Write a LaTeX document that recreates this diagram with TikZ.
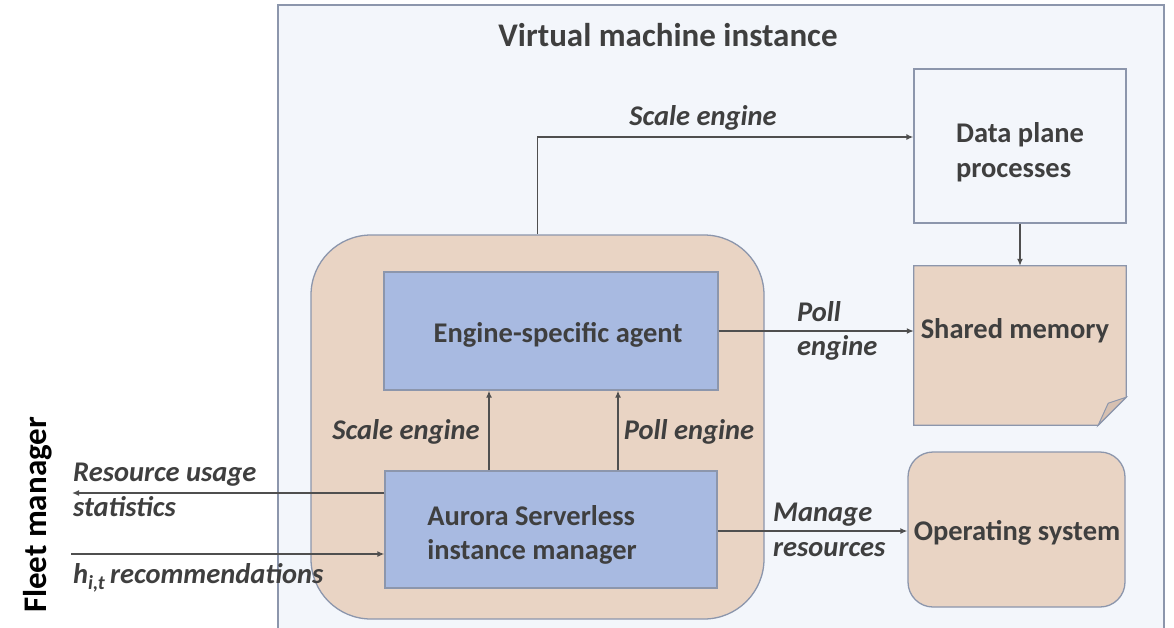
\documentclass[tikz,border=0pt]{standalone}
\usepackage{fontspec}
\setmainfont{Carlito}
\usetikzlibrary{arrows.meta}

\definecolor{vmfill}{HTML}{F3F6FB}
\definecolor{edgegrey}{HTML}{8C96AC}
\definecolor{peach}{HTML}{E9D4C4}
\definecolor{foldpeach}{HTML}{D6C0B1}
\definecolor{agentblue}{HTML}{A8BAE1}
\definecolor{txtgrey}{HTML}{3F3F3F}
\definecolor{arrgrey}{HTML}{4F4F4F}

\begin{document}
\begin{tikzpicture}[x=1pt,y=-1pt]
        \tikzstyle{every node}+=[inner sep=0pt, text=txtgrey, font=\bfseries\fontsize{28.5}{34.5}\selectfont]
        \tikzstyle{box}=[draw=edgegrey, line width=1.3pt]
        \tikzstyle{lbl}=[font=\bfseries\itshape\fontsize{28.5}{34.5}\selectfont, align=left]
        \tikzstyle{conn}=[draw=arrgrey, line width=1.6pt, -{Latex[length=7pt,width=6pt]}]
        \useasboundingbox (0,0) rectangle (1174,627);
        % virtual machine frame, open at the bottom
        \fill [vmfill] (278,5) rectangle (1164,640);
        \draw [edgegrey, line width=1.5pt] (278,640) -- (278,5) -- (1164,5) -- (1164,640);
        \node (vmtitle) at (668,35) [font=\bfseries\fontsize{33}{40}\selectfont] {Virtual machine instance};
        % serverless host and its two parts
        \node [box, fill=peach, rounded corners=60pt, minimum width=453, minimum height=384] (host) at (537.5,427) {};
        \node [box, fill=agentblue, minimum width=334, minimum height=118] (agent) at (551,331) {};
        \node (agenttext) at (558,335) {Engine-specific agent};
        \node [box, fill=agentblue, minimum width=332, minimum height=117] (mgr) at (551,529.5) {};
        \node (mgrtext) at (532,535) [align=left] {Aurora Serverless\\instance manager};
        % right column
        \node [box, minimum width=212, minimum height=154] (dp) at (1020,146) {};
        \node (dptext) at (1020,152) [align=left] {Data plane\\processes};
        \node [minimum width=212, minimum height=159] (shmem) at (1020,345.5) {};
        \filldraw [fill=peach, draw=edgegrey, line width=1.3pt] (shmem.north west) -- (shmem.north east)
                -- ([yshift=28pt]shmem.south east) -- ([xshift=-28pt]shmem.south east) -- (shmem.south west) -- cycle;
        \filldraw [fill=foldpeach, draw=edgegrey, line width=1pt] ([yshift=28pt]shmem.south east)
                -- ([xshift=-18pt,yshift=22pt]shmem.south east) -- ([xshift=-28pt]shmem.south east) -- cycle;
        \node (shmemtext) at (1015,331) {Shared memory};
        \node [box, fill=peach, rounded corners=25pt, minimum width=217, minimum height=155] (os) at (1016.5,529.5) {};
        \node (ostext) at (1017,533) {Operating system};
        % connectors
        \draw [conn] (host.north) |- ([yshift=9pt]dp.west);
        \draw [conn] (dp.south) -- (shmem.north);
        \draw [conn] (agent.east) -- (agent.east -| shmem.west);
        \draw [conn] ([xshift=-62pt]mgr.north) -- ([xshift=-62pt]agent.south);
        \draw [conn] ([xshift=67pt]mgr.north) -- ([xshift=67pt]agent.south);
        \draw [conn] ([yshift=-1.5pt]mgr.east) -- ([yshift=-1.5pt]mgr.east -| os.west);
        \coordinate (fmout) at (72,493);
        \coordinate (fmin) at (71,554);
        \draw [conn] ([yshift=36.5pt]mgr.west) -- (fmout);
        \draw [conn] (fmin) -- (fmin -| mgr.west);
        % labels
        \node [lbl] (scaletop) at (703,118) {Scale engine};
        \node [lbl] (scaleup) at (406,432) {Scale engine};
        \node [lbl] (pollup) at (689,432) {Poll engine};
        \node [lbl, anchor=west] (pollside) at (797,331) {Poll\\engine};
        \node [lbl, anchor=west] (manage) at (773,530) {Manage\\resources};
        \node [lbl, anchor=west] (usage) at (73,490) {Resource usage\\statistics};
        \node [lbl, anchor=west] (recs) at (73,578) {h\textsubscript{i,t}\,recommendations};
        \node [rotate=90, text=black, font=\bfseries\fontsize{33}{40}\selectfont] (fleet) at (38,515) {Fleet manager};
\end{tikzpicture}
\end{document}
